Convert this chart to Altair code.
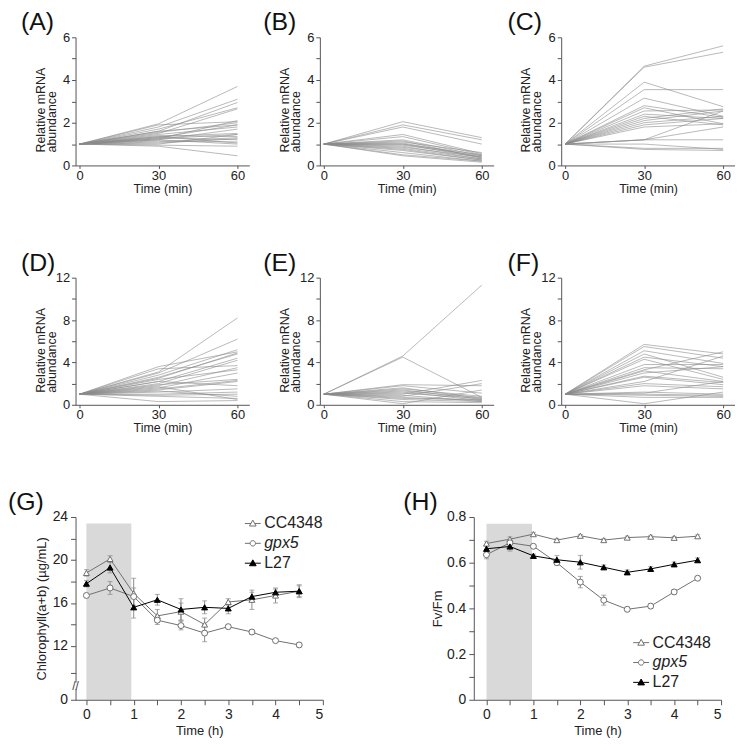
import altair as alt
import pandas as pd

FONT = "Liberation Sans"

# ---------------- data: gene expression panels (A-F) ----------------
times_min = [0, 30, 60]
A30 = [1.95, 1.8, 1.6, 1.7, 1.5, 1.9, 1.55, 1.3, 1.45, 1.2, 1.35, 1.25, 1.4, 1.1, 1.3, 1.15, 1.35, 1.0, 1.2, 0.95, 0.9, 1.05, 1.6, 1.25]
A60 = [3.7, 3.1, 2.95, 2.7, 2.65, 2.05, 2.0, 1.9, 1.8, 1.7, 1.5, 1.45, 1.35, 1.3, 1.2, 1.1, 1.05, 1.45, 1.0, 0.9, 0.45, 1.25, 1.9, 2.1]
B30 = [2.05, 1.9, 1.8, 1.45, 1.35, 1.2, 1.1, 1.05, 1.0, 0.95, 0.9, 0.8, 0.7, 0.6, 0.5, 0.45, 1.0, 0.85, 1.15, 0.75]
B60 = [1.3, 1.2, 1.0, 0.55, 0.5, 0.45, 0.6, 0.4, 0.35, 0.45, 0.3, 0.3, 0.25, 0.2, 0.2, 0.15, 0.5, 0.4, 0.35, 0.25]
C30 = [4.65, 4.6, 3.9, 3.55, 3.15, 2.8, 2.7, 2.55, 2.4, 2.3, 2.2, 2.1, 2.0, 1.9, 1.8, 1.2, 1.2, 0.8, 0.75, 1.0, 1.2]
C60 = [5.6, 5.3, 2.75, 3.55, 2.3, 2.25, 1.95, 2.6, 2.2, 1.9, 2.65, 2.55, 2.3, 2.2, 1.95, 1.8, 1.2, 0.8, 0.7, 0.75, 2.55]
D30 = [3.1, 3.0, 2.8, 3.6, 2.5, 2.6, 2.2, 3.4, 2.0, 1.8, 2.4, 1.6, 1.9, 1.4, 2.2, 1.2, 1.0, 0.9, 1.3, 0.8, 0.3, 1.5, 1.7]
D60 = [8.2, 6.2, 5.2, 5.0, 4.9, 4.8, 4.4, 3.7, 4.2, 3.5, 3.3, 3.0, 2.4, 2.2, 1.8, 1.5, 1.2, 1.0, 0.8, 0.6, 0.4, 2.3, 0.5]
E30 = [4.6, 4.5, 1.9, 1.8, 1.6, 1.4, 1.2, 1.0, 0.9, 0.8, 0.6, 0.5, 0.3, 0.1, 1.1, 1.3, 0.7, 1.5]
E60 = [11.3, 0.7, 1.8, 1.1, 0.6, 0.5, 0.4, 2.3, 0.3, 2.0, 0.5, 0.3, 0.2, 1.4, 0.6, 0.7, 0.4, 0.8]
F30 = [5.7, 5.5, 5.1, 4.8, 4.5, 4.3, 3.8, 3.5, 3.3, 3.2, 3.0, 2.7, 2.6, 2.2, 2.0, 1.8, 1.2, 1.1, 1.0, 0.9, 0.7, 0.1]
F60 = [4.8, 4.4, 3.9, 2.6, 3.6, 2.4, 3.8, 3.4, 5.0, 2.2, 3.6, 2.1, 1.9, 4.6, 1.7, 1.5, 1.0, 2.2, 0.9, 0.8, 0.7, 1.2]
mrna_title = ["Relative mRNA", "abundance"]

# ---------------- data: physiology panels (G, H) ----------------
strains = ["CC4348", "gpx5", "L27"]
strain_line = ["#707070", "#707070", "#000000"]
strain_fill = ["#ffffff", "#ffffff", "#000000"]
strain_shape = ["triangle-up", "circle", "triangle-up"]
times_h = [0, 0.5, 1, 1.5, 2, 2.5, 3, 3.5, 4, 4.5]
G_cc = [18.8, 20.1, 16.9, 14.8, 15.2, 14.0, 16.1, 16.3, 16.7, 17.1]
G_gpx5 = [16.7, 17.4, 16.6, 14.4, 13.9, 13.2, 13.8, 13.3, 12.5, 12.1]
G_l27 = [17.8, 19.3, 15.6, 16.3, 15.4, 15.6, 15.5, 16.6, 17.0, 17.1]
G_cc_err = [0.3, 0.3, 1.4, 0.6, 0.8, 0.6, 0.3, 0.9, 0.7, 0.6]
G_gpx5_err = [0.2, 0.6, 0.8, 0.4, 0.4, 0.8, 0.2, 0.2, 0.15, 0.2]
G_l27_err = [0.3, 0.5, 1.0, 0.5, 1.0, 0.6, 0.5, 0.4, 0.3, 0.5]
H_cc = [0.684, 0.703, 0.725, 0.699, 0.718, 0.699, 0.710, 0.714, 0.709, 0.716]
H_gpx5 = [0.635, 0.687, 0.672, 0.600, 0.515, 0.436, 0.396, 0.410, 0.472, 0.532]
H_l27 = [0.661, 0.671, 0.630, 0.613, 0.602, 0.580, 0.558, 0.573, 0.593, 0.611]
H_cc_err = [0.01, 0.01, 0.008, 0.006, 0.006, 0.006, 0.006, 0.006, 0.006, 0.006]
H_gpx5_err = [0.018, 0.01, 0.008, 0.01, 0.025, 0.022, 0.01, 0.01, 0.01, 0.008]
H_l27_err = [0.012, 0.02, 0.008, 0.018, 0.03, 0.01, 0.01, 0.01, 0.01, 0.01]
# broken y axis of (G): the axis floor (7) is shown as "0"
G_floor = 7
G_shade = [0, 0.95, G_floor, 23.4]   # x0, x1, y0, y1
H_shade = [0, 0.97, 0, 0.77]
G_break = [8.3]

W1 = 175


def panel_label(text, dx):
    """Panel letter drawn as a text mark just above-left of the plot area."""
    return alt.Chart(pd.DataFrame({"lab": [text]})).mark_text(
        align="left", baseline="middle", fontSize=25, font=FONT, color="#111"
    ).encode(x=alt.value(dx), y=alt.value(-15), text="lab:N")


def ytitle_line(text, dx):
    return alt.Chart(pd.DataFrame({"lab": [text]})).mark_text(
        align="left", baseline="middle", angle=270, fontSize=12.5, font=FONT, color="#222"
    ).encode(x=alt.value(dx), y=alt.value(116), text="lab:N")


def gene_df(v30, v60):
    rows = []
    for i, (a, b) in enumerate(zip(v30, v60)):
        for t, v in zip(times_min, [1.0, a, b]):
            rows.append({"gene": i, "t": t, "v": v})
    return pd.DataFrame(rows)


def gene_panel(label, v30, v60, ymax, major, step, height, dx):
    df = gene_df(v30, v60)
    yvals = list(range(0, ymax + 1, step))
    lines = alt.Chart(df).mark_line(stroke="#8a8a8a", strokeWidth=0.7, opacity=0.85).encode(
        x=alt.X("t:Q", scale=alt.Scale(domain=[-1.5, 64.5], nice=False, zero=False),
                axis=alt.Axis(values=times_min, title="Time (min)", tickSize=3,
                              labelPadding=1, titlePadding=0, labelFontSize=13,
                              titleFontSize=12.5)),
        y=alt.Y("v:Q", scale=alt.Scale(domain=[0, ymax], nice=False),
                axis=alt.Axis(values=yvals,
                              labelExpr=f"datum.value % {major} == 0 ? datum.label : ''",
                              title=None, tickSize=4, labelPadding=2, labelFontSize=13)),
        detail="gene:N",
    )
    return alt.layer(lines, ytitle_line(mrna_title[0], -35), ytitle_line(mrna_title[1], -24),
                     panel_label(label, dx)).properties(width=W1, height=height)


A = gene_panel("(A)", A30, A60, 6, 2, 1, 129, -55)
B = gene_panel("(B)", B30, B60, 6, 2, 1, 129, -57)
C = gene_panel("(C)", C30, C60, 6, 2, 1, 129, -54)
D = gene_panel("(D)", D30, D60, 12, 4, 2, 128, -55)
E = gene_panel("(E)", E30, E60, 12, 4, 2, 128, -57)
F = gene_panel("(F)", F30, F60, 12, 4, 2, 128, -54)

# ---------------- G / H ----------------
TRI = "M-1,0H-0.24M0.24,0H1M0,-0.42L0.42,0.32L-0.42,0.32Z"
CIRC = "M-1,0H-0.34M0.34,0H1M0.34,0A0.34,0.34,0,1,1,-0.34,0A0.34,0.34,0,1,1,0.34,0Z"


def legend(x, y):
    return alt.Legend(
        title=None, orient="none", legendX=x, legendY=y, symbolSize=256,
        symbolStrokeWidth=1, labelFontSize=16, labelFont=FONT, labelColor="#222",
        rowPadding=3, labelOffset=3, padding=0, symbolOpacity=1,
        labelFontStyle={"expr": "datum.value === 'gpx5' ? 'italic' : 'normal'"},
    )


def phys_df(vals, errs):
    rows = []
    for s, vs, es in zip(strains, vals, errs):
        for t, v, e in zip(times_h, vs, es):
            rows.append({"strain": s, "t": t, "v": v, "lo": v - e, "hi": v + e})
    return pd.DataFrame(rows)


def phys_panel(label, vals, errs, shade, xdom, yscale, yaxis, leg, dx, brk=None):
    df = phys_df(vals, errs)
    xaxis = alt.Axis(values=[i / 2 for i in range(11)],
                     labelExpr="datum.value % 1 == 0 ? format(datum.value, 'd') : ''",
                     title="Time (h)", tickSize=5, labelPadding=3, titlePadding=3,
                     labelFontSize=14, titleFontSize=13, zindex=1)
    xs = alt.Scale(domain=xdom, nice=False, zero=False)

    def X(f):
        return alt.X(f, type="quantitative", scale=xs, axis=xaxis)

    def Y(f):
        return alt.Y(f, type="quantitative", scale=yscale, axis=yaxis)

    sdf = pd.DataFrame({"x0": [shade[0]], "x1": [shade[1]], "y0": [shade[2]], "y1": [shade[3]]})
    rect = alt.Chart(sdf).mark_rect(color="#d9d9d9").encode(x=X("x0"), x2="x1", y=Y("y0"), y2="y1")
    base = alt.Chart(df)
    layers = [rect]
    if brk is not None:
        bdf = pd.DataFrame({"y": brk, "ya": [b - 0.3 for b in brk], "yb": [b + 0.3 for b in brk]})
        gap = alt.Chart(bdf).mark_rule(color="white", strokeWidth=4).encode(
            x=alt.value(0), y=Y("ya"), y2="yb")
        mark = alt.Chart(bdf).mark_text(text="//", fontSize=12, color="#444", font=FONT).encode(
            x=alt.value(0), y=Y("y"))
        layers += [gap, mark]
    err = base.mark_rule(color="#8a8a8a", strokeWidth=1).encode(x=X("t"), y=Y("lo"), y2="hi")
    cap_lo = base.mark_tick(orient="horizontal", size=5, thickness=1, color="#8a8a8a").encode(x=X("t"), y=Y("lo"))
    cap_hi = base.mark_tick(orient="horizontal", size=5, thickness=1, color="#8a8a8a").encode(x=X("t"), y=Y("hi"))
    layers += [err, cap_lo, cap_hi]
    for s, lc in zip(strains, strain_line):
        sub = base.transform_filter(alt.datum.strain == s)
        layers.append(sub.mark_line(strokeWidth=1, color=lc).encode(x=X("t"), y=Y("v")))
    for s, lc, fc, shp in zip(strains, strain_line, strain_fill, strain_shape):
        sub = base.transform_filter(alt.datum.strain == s)
        layers.append(sub.mark_point(size=36, strokeWidth=1, opacity=1, shape=shp,
                                     stroke=lc, fill=fc).encode(x=X("t"), y=Y("v")))
    # legend carrier layer (invisible marks)
    legend_layer = base.mark_point(opacity=0).encode(
        x=X("t"), y=Y("v"),
        shape=alt.Shape("strain:N", scale=alt.Scale(domain=strains, range=[TRI, CIRC, TRI]), legend=leg),
        fill=alt.Fill("strain:N", scale=alt.Scale(domain=strains, range=strain_fill), legend=leg),
        stroke=alt.Stroke("strain:N", scale=alt.Scale(domain=strains, range=strain_line), legend=leg),
    )
    layers += [legend_layer, panel_label(label, dx)]
    return alt.layer(*layers).properties(width=249, height=184)


g_yscale = alt.Scale(domain=[G_floor, 24], nice=False, zero=False)
g_yaxis = alt.Axis(values=[G_floor, 9.5, 12, 14, 16, 18, 20, 22, 24],
                   labelExpr=f"datum.value == {G_floor} ? '0' : (indexof([12, 16, 20, 24], datum.value) >= 0 ? datum.label : '')",
                   title="Chlorophyll(a+b)  (\u00b5g/mL)", titleFontSize=13, titlePadding=4,
                   tickSize=5, labelPadding=3, labelFontSize=14)
G = phys_panel("(G)", [G_cc, G_gpx5, G_l27], [G_cc_err, G_gpx5_err, G_l27_err], G_shade,
               [-0.23, 5], g_yscale, g_yaxis, legend(170, -2), -68, brk=G_break)

h_yscale = alt.Scale(domain=[0, 0.8], nice=False)
h_yaxis = alt.Axis(values=[i / 10 for i in range(9)],
                   labelExpr="datum.value == 0 ? '0' : (round(datum.value * 10) % 2 == 0 ? format(datum.value, '.1f') : '')",
                   title="Fv/Fm", titleFontSize=13, titlePadding=2,
                   tickSize=5, labelPadding=3, labelFontSize=14)
H = phys_panel("(H)", [H_cc, H_gpx5, H_l27], [H_cc_err, H_gpx5_err, H_l27_err], H_shade,
               [-0.27, 5], h_yscale, h_yaxis, legend(160, 118), -71)

IND = dict(shape="independent", fill="independent", stroke="independent")
row1 = alt.hconcat(A, B, C, spacing=14)
row2 = alt.hconcat(D, E, F, spacing=14)
row3 = alt.hconcat(G, H, spacing=80).resolve_scale(**IND)

chart = alt.ConcatChart(concat=[row1, row2, row3], columns=1, align="none", spacing=56
                        ).resolve_scale(**IND).properties(
    padding={"left": 0, "top": 0, "right": 0, "bottom": 0}, background="white"
).configure(font=FONT).configure_view(stroke=None).configure_axis(
    grid=False, domainColor="#555", tickColor="#555", labelColor="#222", titleColor="#222",
    labelFont=FONT, titleFont=FONT, titleFontWeight="normal", domainWidth=1, tickWidth=1,
)

chart.save("out.html", embed_options={"renderer": "svg", "actions": False})
